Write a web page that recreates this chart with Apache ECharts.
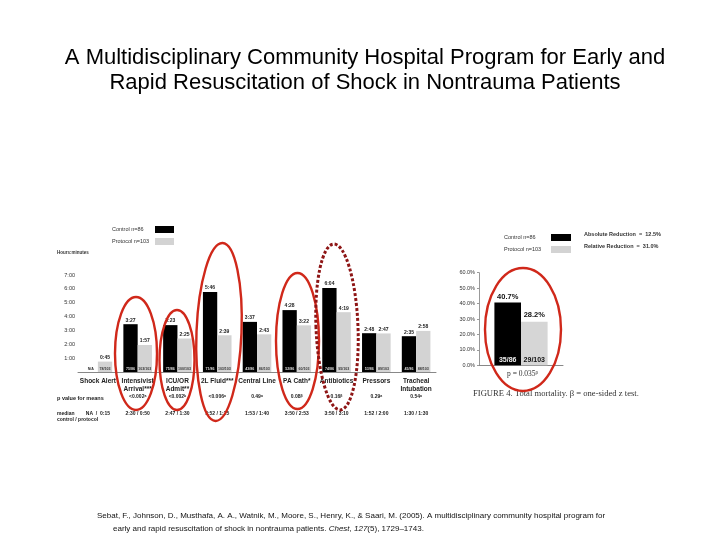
<!DOCTYPE html>
<html>
<head>
<meta charset="utf-8">
<script src="https://cdn.jsdelivr.net/npm/echarts/dist/echarts.min.js"></script>
<style>
  html, body { margin: 0; background: #fff; }
  #main { width: 720px; height: 540px; }
</style>
</head>
<body>
<div id="main"></div>
<script>
// left panel: time to interventions (hours:minutes)
const categories = ["Shock Alert", "Intensivist\nArrival***", "ICU/OR\nAdmit**", "2L Fluid***", "Central Line",
  "PA Cath*", "Antibiotics", "Pressors", "Tracheal\nIntubation"]
const controlTimes = [null, "3:27", "3:23", "5:46", "3:37", "4:28", "6:04", "2:48", "2:35"]
const protocolTimes = ["0:45", "1:57", "2:25", "2:39", "2:43", "3:22", "4:19", "2:47", "2:58"]
const controlCounts = ["N/A", "75/86", "75/86", "71/86", "43/86", "52/86", "74/86", "53/86", "45/86"]
const protocolCounts = ["78/103", "103/103", "100/103", "103/103", "86/103", "60/103", "95/103", "89/103", "88/103"]
const pValues = ["", "<0.002", "<0.002", "<0.006", "0.49", "0.08", "0.16", "0.29", "0.54"]
const pNotes = ["", "a", "b", "a", "a", "β", "β", "a", "a"]
const medians = ["NA  /  0:15", "2:30 / 0:50", "2:47 / 1:30", "3:52 / 1:25", "1:53 / 1:40",
  "3:50 / 2:53", "3:50 / 3:10", "1:52 / 2:00", "1:30 / 1:30"]
const hourTicks = [0, 1, 2, 3, 4, 5, 6, 7]

// right panel: total mortality
const mortalityGroup = ["Total mortality"]
const mortalityControl = [40.7]
const mortalityProtocol = [28.2]
const mortalityCounts = ["35/86", "29/103"]

const toHours = t => {
  if (!t) return "-"
  const [h, m] = t.split(":").map(Number)
  return h + m / 60
}

const sans = "Liberation Sans"
const ink = "#222"

const chartDom = document.getElementById("main")
const myChart = echarts.init(chartDom)

// little count labels sitting at the foot of each bar
const footLabels = (texts, barW, fontSize, colors, emptyColor) => (params, api) => {
  const i = api.value(0)
  const side = api.value(1)
  const base = api.coord([i, 0])
  const missing = texts[side][i] === "N/A"
  return {
    type: "text",
    x: base[0] + (side ? 1 : -1) * barW / 2,
    y: base[1] - 1.5,
    style: {
      text: texts[side][i],
      fill: missing ? emptyColor : colors[side],
      font: "bold " + fontSize + "px " + sans,
      align: "center",
      verticalAlign: "bottom",
    },
  }
}

const leftFoot = []
categories.forEach((c, i) => { leftFoot.push([i, 0, 0]); leftFoot.push([i, 1, 0]) })

const ellipse = (cx, cy, rx, ry, opts = {}) => ({
  type: "ellipse",
  x: cx, y: cy,
  rotation: opts.rot || 0,
  z: 100,
  shape: { cx: 0, cy: 0, rx: rx, ry: ry },
  style: {
    fill: null,
    stroke: opts.color || "#d0281a",
    lineWidth: opts.width || 2.4,
    lineDash: opts.dash || null,
  },
})

const legendText = w => ({
  fontSize: 5.5,
  color: "#333",
  rich: { t: { width: w, align: "left", fontSize: 5.5, color: "#333" } },
})

const option = {
  backgroundColor: "#fff",
  animation: false,
  textStyle: { fontFamily: sans },
  title: {
    text: "A Multidisciplinary Community Hospital Program for Early and\nRapid Resuscitation of Shock in Nontrauma Patients",
    left: 360,
    top: 40,
    textAlign: "center",
    textStyle: { fontSize: 22, fontWeight: "normal", color: "#000", lineHeight: 25, fontFamily: sans },
  },
  legend: [
    {
      data: ["Control n=86", "Protocol n=103"],
      orient: "vertical",
      left: 107, top: 221,
      align: "right",
      itemWidth: 19, itemHeight: 7, itemGap: 5,
      icon: "rect",
      selectedMode: false,
      formatter: name => "{t|" + name + "}",
      textStyle: legendText(38),
    },
    {
      data: ["Control n=86", "Protocol n=103"],
      orient: "vertical",
      left: 499, top: 229,
      align: "right",
      itemWidth: 20, itemHeight: 7, itemGap: 5,
      icon: "rect",
      selectedMode: false,
      formatter: name => "{t|" + name + "}",
      textStyle: legendText(42),
    },
  ],
  grid: [
    { left: 78, top: 275, width: 358, height: 97 },
    { left: 479, top: 272.7, width: 84, height: 92.6 },
  ],
  xAxis: [
    {
      gridIndex: 0, type: "category", data: categories,
      axisLine: { lineStyle: { color: "#888", width: 1 } },
      axisTick: { show: false },
      axisLabel: { interval: 0, fontSize: 6.5, fontWeight: "bold", color: ink, lineHeight: 8, margin: 5 },
    },
    {
      gridIndex: 0, type: "category", data: pValues, position: "bottom", offset: 20,
      axisLine: { show: false }, axisTick: { show: false },
      axisLabel: {
        interval: 0, fontSize: 5, fontWeight: "bold", color: ink, margin: 2,
        formatter: (v, i) => v ? v + "{s|" + pNotes[i] + "}" : "",
        rich: { s: { fontSize: 3.5, fontWeight: "bold", color: ink, verticalAlign: "top" } },
      },
    },
    {
      gridIndex: 0, type: "category", data: medians, position: "bottom", offset: 37,
      axisLine: { show: false }, axisTick: { show: false },
      axisLabel: { interval: 0, fontSize: 5, fontWeight: "bold", color: ink, margin: 2 },
    },
    {
      gridIndex: 1, type: "category", data: mortalityGroup,
      axisLine: { lineStyle: { color: "#888", width: 1 } },
      axisTick: { show: false },
      axisLabel: { show: false },
    },
  ],
  yAxis: [
    {
      gridIndex: 0, type: "value", min: hourTicks[0], max: hourTicks[hourTicks.length - 1], interval: 1,
      axisLine: { show: false }, axisTick: { show: false }, splitLine: { show: false },
      axisLabel: { fontSize: 5.5, color: "#333", margin: 3, formatter: v => v === 0 ? "" : v + ":00" },
    },
    {
      gridIndex: 1, type: "value", min: 0, max: 60, interval: 10,
      axisLine: { show: true, lineStyle: { color: "#999", width: 1 } },
      axisTick: { show: true, length: 2, lineStyle: { color: "#999" } },
      splitLine: { show: false },
      axisLabel: { fontSize: 5.5, color: "#333", margin: 4, formatter: v => v.toFixed(1) + "%" },
    },
  ],
  series: [
    {
      name: "Control n=86", type: "bar", xAxisIndex: 0, yAxisIndex: 0,
      data: controlTimes.map(toHours), barWidth: 14.3, barGap: "0%",
      itemStyle: { color: "#000" },
      label: {
        show: true, position: "top", distance: 1.5, fontSize: 5, fontWeight: "bold", color: ink,
        formatter: p => controlTimes[p.dataIndex] || "",
      },
    },
    {
      name: "Protocol n=103", type: "bar", xAxisIndex: 0, yAxisIndex: 0,
      data: protocolTimes.map(toHours), barWidth: 14.3, barGap: "0%",
      itemStyle: { color: "#d3d3d3" },
      label: {
        show: true, position: "top", distance: 1.5, fontSize: 5, fontWeight: "bold", color: ink,
        formatter: p => protocolTimes[p.dataIndex],
      },
    },
    {
      type: "custom", xAxisIndex: 0, yAxisIndex: 0, z: 5,
      data: leftFoot, encode: { x: 0, y: 2 },
      renderItem: footLabels([controlCounts, protocolCounts], 14.3, 3.6, ["#ddd", "#333"], "#333"),
    },
    {
      name: "Control n=86", type: "bar", xAxisIndex: 3, yAxisIndex: 1,
      data: mortalityControl, barWidth: 26.6, barGap: "0%",
      itemStyle: { color: "#000" },
      label: {
        show: true, position: "top", distance: 2, fontSize: 7.5, fontWeight: "bold", color: "#111",
        formatter: p => p.value.toFixed(1) + "%",
      },
    },
    {
      name: "Protocol n=103", type: "bar", xAxisIndex: 3, yAxisIndex: 1,
      data: mortalityProtocol, barWidth: 26.6, barGap: "0%",
      itemStyle: { color: "#d6d6d6" },
      label: {
        show: true, position: "top", distance: 3, fontSize: 7.5, fontWeight: "bold", color: "#111",
        formatter: p => p.value.toFixed(1) + "%",
      },
    },
    {
      type: "custom", xAxisIndex: 3, yAxisIndex: 1, z: 5,
      data: [[0, 0, 0], [0, 1, 0]], encode: { x: 0, y: 2 },
      renderItem: footLabels([[mortalityCounts[0]], [mortalityCounts[1]]], 26.6, 7, ["#eee", "#111"], "#111"),
    },
  ],
  graphic: [
    { type: "text", x: 57, y: 250, style: { text: "Hours:minutes", font: "bold 4.5px " + sans, fill: "#333" } },
    { type: "text", x: 57, y: 395, style: { text: "p value for means", font: "bold 5.5px " + sans, fill: ink } },
    { type: "text", x: 57, y: 411, style: { text: "median\ncontrol / protocol", font: "bold 5px " + sans, fill: ink, lineHeight: 6 } },
    { type: "text", x: 584, y: 231, style: { text: "Absolute Reduction  =  12.5%", font: "bold 5.5px " + sans, fill: "#333" } },
    { type: "text", x: 584, y: 243, style: { text: "Relative Reduction  =  31.0%", font: "bold 5.5px " + sans, fill: "#333" } },
    {
      type: "text", x: 507, y: 370,
      style: { text: "p = 0.035{s|β}", font: "7.5px Liberation Serif", fill: "#333",
        rich: { s: { fontSize: 5, fontFamily: "Liberation Serif", verticalAlign: "top", fill: "#333" } } },
    },
    {
      type: "text", x: 473, y: 389,
      style: { text: "FIGURE 4. Total mortality. β = one-sided z test.", font: "8.6px Liberation Serif", fill: "#333" },
    },
    {
      type: "text", x: 97, y: 512,
      style: { text: "Sebat, F., Johnson, D., Musthafa, A. A., Watnik, M., Moore, S., Henry, K., & Saari, M. (2005). A multidisciplinary community hospital program for",
        font: "8px " + sans, fill: "#111" },
    },
    {
      type: "text", x: 113, y: 525,
      style: { text: "early and rapid resuscitation of shock in nontrauma patients. {i|Chest}, {i|127}(5), 1729–1743.",
        font: "8px " + sans, fill: "#111",
        rich: { i: { fontStyle: "italic", fontSize: 8, fontFamily: sans, fill: "#111" } } },
    },
    ellipse(136, 353.5, 21, 56.5),
    ellipse(177, 360, 17.5, 50),
    ellipse(219, 332, 22.5, 89, { rot: -0.04 }),
    ellipse(297.5, 341, 21.5, 68),
    ellipse(337, 327, 21, 83, { rot: 0.04, color: "#8e1515", width: 3, dash: [3, 2] }),
    ellipse(523, 329.5, 38, 61.5),
  ],
}

option && myChart.setOption(option)
</script>
</body>
</html>
